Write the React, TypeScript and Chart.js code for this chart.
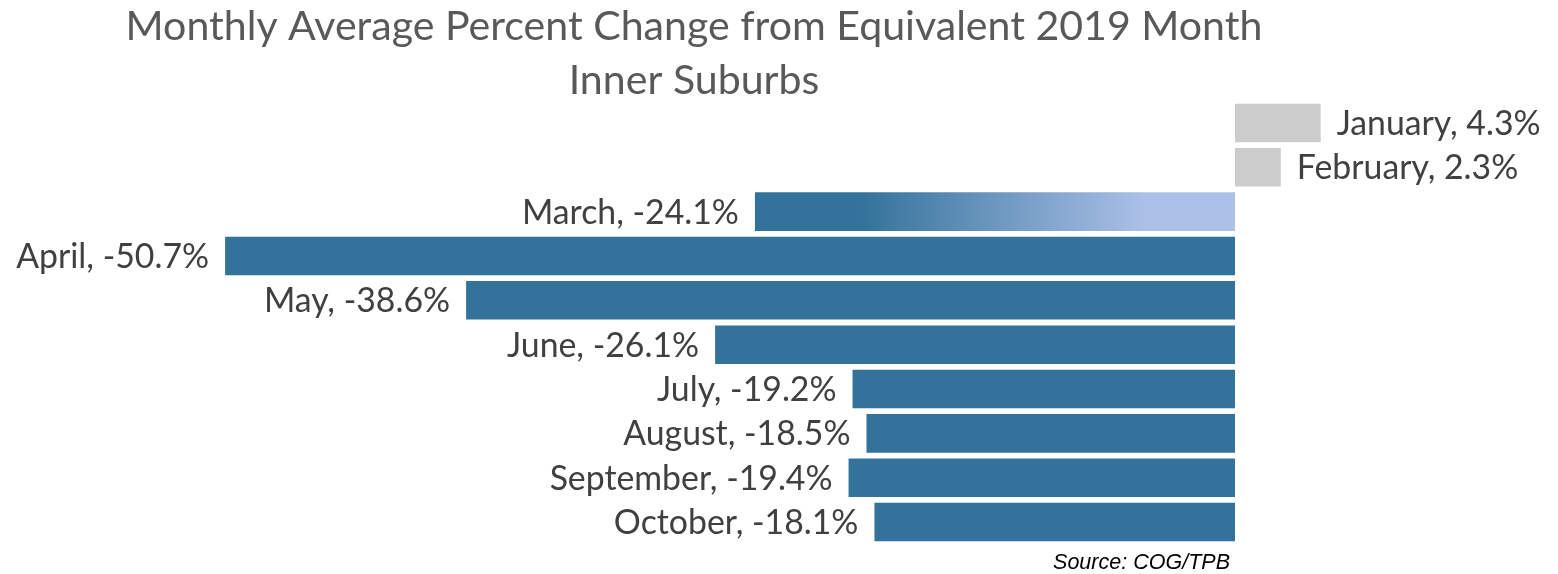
import React, { useEffect, useRef } from "react";
import { Chart, registerables } from "chart.js";

Chart.register(...registerables);

const titleLines = ["Monthly Average Percent Change from Equivalent 2019 Month", "Inner Suburbs"];
const sourceText = "Source: COG/TPB";
const months = ["January", "February", "March", "April", "May", "June", "July", "August", "September", "October"];
const values = [4.3, 2.3, -24.1, -50.7, -38.6, -26.1, -19.2, -18.5, -19.4, -18.1];
const gradientMonth = "March";

const BLUE = "#33729A";
const LIGHT = "#ADC1E8";
const GRAY = "#CCCCCC";
const FONT = "Lato, 'Open Sans', sans-serif";

function fitSize(ctx: CanvasRenderingContext2D, text: string, width: number, style: string, family: string) {
  ctx.font = `${style} 100px ${family}`;
  const w = ctx.measureText(text).width;
  return (100 * width) / w;
}

const textPlugin = {
  id: "textPlugin",
  afterDatasetsDraw(chart: any) {
    const ctx: CanvasRenderingContext2D = chart.ctx;
    ctx.save();
    // title
    const tSize = fitSize(ctx, titleLines[0], 1137, "", FONT);
    ctx.font = `${tSize}px ${FONT}`;
    ctx.fillStyle = "#595959";
    ctx.textAlign = "center";
    ctx.textBaseline = "alphabetic";
    ctx.fillText(titleLines[0], 694, 40);
    ctx.fillText(titleLines[1], 694, 94);

    // data labels
    const lSize = fitSize(ctx, "April, -50.7%", 193, "", FONT);
    ctx.font = `${lSize}px ${FONT}`;
    ctx.fillStyle = "#404040";
    ctx.textBaseline = "middle";
    const meta = chart.getDatasetMeta(0);
    meta.data.forEach((el: any, i: number) => {
      const v = values[i];
      const label = `${months[i]}, ${v.toFixed(1)}%`;
      if (v >= 0) {
        ctx.textAlign = "left";
        ctx.fillText(label, el.x + 16, el.y + 1);
      } else {
        ctx.textAlign = "right";
        ctx.fillText(label, el.x - 16, el.y + 1);
      }
    });

    // source
    const sSize = fitSize(ctx, sourceText, 177, "italic", "'Liberation Sans', Arial, sans-serif");
    ctx.font = `italic ${sSize}px 'Liberation Sans', Arial, sans-serif`;
    ctx.fillStyle = "#000000";
    ctx.textAlign = "right";
    ctx.textBaseline = "alphabetic";
    ctx.fillText(sourceText, 1230, 569);
    ctx.restore();
  },
};

export default function App() {
  const ref = useRef<HTMLCanvasElement | null>(null);
  useEffect(() => {
    const prevMargin = document.body.style.margin;
    document.body.style.margin = "0";
    if (!ref.current) return;
    const chart = new Chart(ref.current, {
      type: "bar",
      data: {
        labels: months,
        datasets: [
          {
            data: values,
            backgroundColor: (c: any) => {
              const i = c.dataIndex;
              const v = values[i];
              if (v > 0) return GRAY;
              if (months[i] === gradientMonth) {
                const chartRef = c.chart;
                const xs = chartRef.scales && chartRef.scales.x;
                if (!xs) return BLUE;
                const x0 = xs.getPixelForValue(v);
                const x1 = xs.getPixelForValue(0);
                if (!isFinite(x0) || !isFinite(x1)) return BLUE;
                const g = chartRef.ctx.createLinearGradient(x0, 0, x1, 0);
                g.addColorStop(0, BLUE);
                g.addColorStop(0.22, BLUE);
                g.addColorStop(0.82, LIGHT);
                g.addColorStop(1, LIGHT);
                return g;
              }
              return BLUE;
            },
            borderWidth: 0,
            barPercentage: 0.87,
            categoryPercentage: 1,
          },
        ],
      },
      options: {
        indexAxis: "y",
        responsive: false,
        animation: false,
        layout: { padding: { left: 119.5, right: 24.2, top: 100.8, bottom: 29.8 } },
        scales: {
          x: { display: false, min: -56, max: 15 },
          y: { display: false },
        },
        plugins: {
          legend: { display: false },
          title: { display: false },
          tooltip: { enabled: false },
        },
      },
      plugins: [textPlugin],
    } as any);
    return () => {
      chart.destroy();
      document.body.style.margin = prevMargin;
    };
  }, []);
  return (
    <div style={{ width: 1558, height: 574 }}>
      <canvas ref={ref} width={1558} height={574} style={{ display: "block" }} />
    </div>
  );
}
